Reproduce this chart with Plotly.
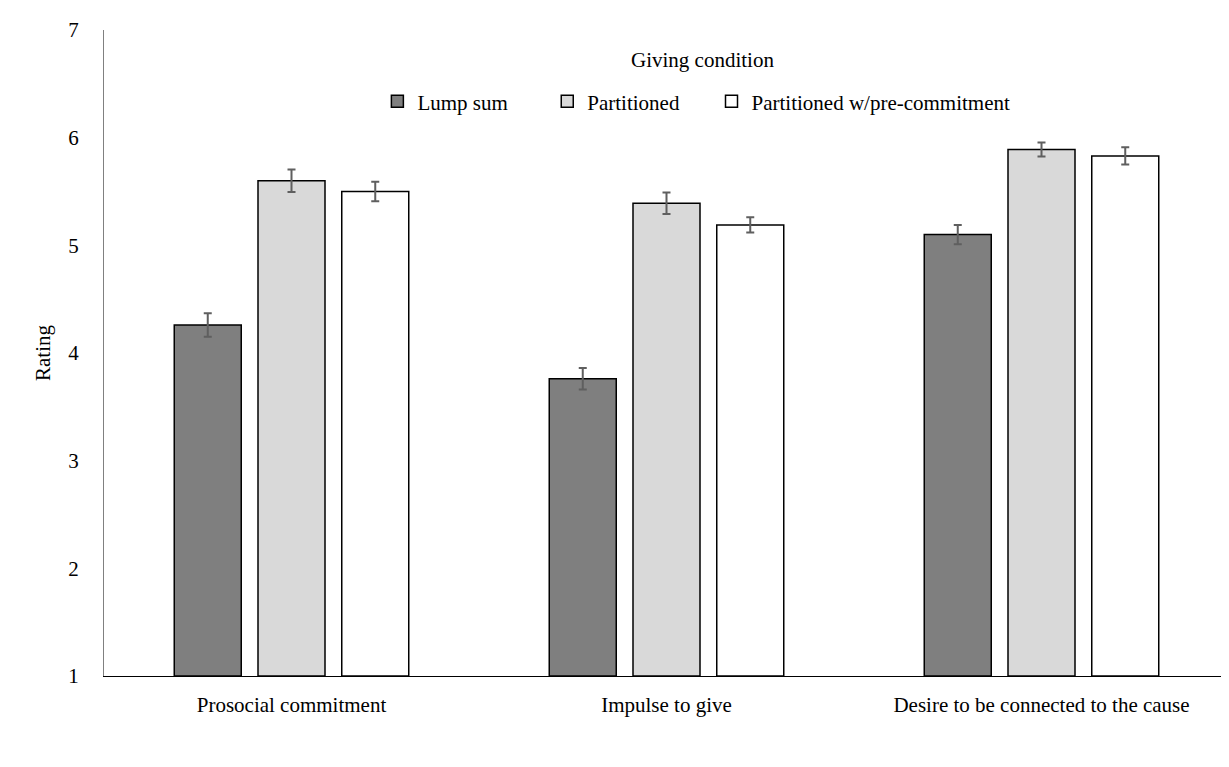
"""Bar chart: ratings by giving condition, with error bars."""

import plotly.graph_objects as go

categories = ["Prosocial commitment", "Impulse to give", "Desire to be connected to the cause"]

series_names = ["Lump sum", "Partitioned", "Partitioned w/pre-commitment"]
lump_sum = [4.26, 3.76, 5.10]
partitioned = [5.60, 5.39, 5.89]
partitioned_pre = [5.50, 5.19, 5.83]

lump_sum_err = [0.11, 0.10, 0.09]
partitioned_err = [0.105, 0.10, 0.065]
partitioned_pre_err = [0.09, 0.07, 0.08]

y_ticks = [1, 2, 3, 4, 5, 6, 7]

FONT = "Liberation Serif, Times New Roman, serif"
fills = ["#7f7f7f", "#d9d9d9", "#ffffff"]
legend_ids = ["legend", "legend2", "legend3"]
legend_x = [0.243, 0.394, 0.540]

fig = go.Figure()
for name, vals, errs, colour, lid in zip(
    series_names,
    [lump_sum, partitioned, partitioned_pre],
    [lump_sum_err, partitioned_err, partitioned_pre_err],
    fills,
    legend_ids,
):
    fig.add_trace(go.Bar(
        x=categories, y=[v - 1 for v in vals], base=1, name=name, legend=lid,
        showlegend=True,
        marker=dict(color=colour, line=dict(color="#000000", width=1.5)),
        error_y=dict(type="data", array=errs, color="#5f5f5f", thickness=2, width=4),
    ))

fig.add_annotation(
    text="Giving condition", xref="paper", yref="paper", x=0.532, y=0.954,
    yanchor="middle", showarrow=False, font=dict(size=21, family=FONT, color="#000000"),
)

# one legend per series so the entries can be spaced like the original
for lid, lx in zip(legend_ids, legend_x):
    fig.update_layout({lid: dict(
        orientation="h", x=lx, xanchor="left", y=0.889, yanchor="middle",
        font=dict(size=21, family=FONT), bgcolor="rgba(0,0,0,0)", itemwidth=30,
    )})

# page body has an 8px margin, so the figure is trimmed by that amount
fig.update_layout(
    width=1221, height=759, showlegend=True,
    barmode="group", bargap=0.33, bargroupgap=0.2,
    plot_bgcolor="white", paper_bgcolor="white",
    font=dict(family=FONT, size=21, color="#000000"),
    margin=dict(l=96, r=0, t=22, b=91),
    xaxis=dict(
        showline=True, linecolor="#000000", linewidth=1,
        ticks="", tickfont=dict(size=21), showgrid=False, ticklabelstandoff=10,
    ),
    yaxis=dict(
        range=[1, 7], tickvals=y_ticks, showgrid=False, zeroline=False,
        showline=True, linecolor="#808080", linewidth=1,
        ticks="", tickfont=dict(size=21), ticklabelstandoff=20,
        title=dict(text="Rating", font=dict(size=21), standoff=11),
    ),
)

fig.write_html("out.html")
